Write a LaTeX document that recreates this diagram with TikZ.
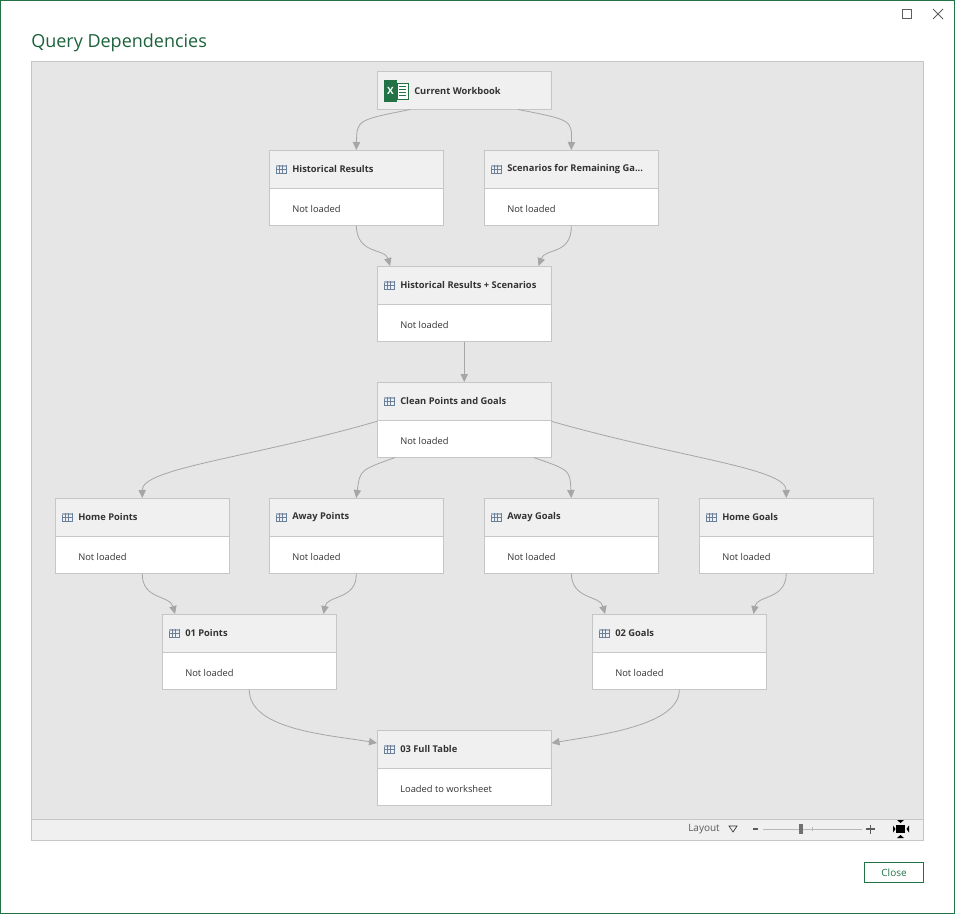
\documentclass[tikz,border=0pt]{standalone}
\usepackage{fontspec}
\setmainfont{Open Sans}
\usetikzlibrary{arrows.meta,calc}
\definecolor{xgreen}{HTML}{217346}
\definecolor{canvas}{HTML}{E6E6E6}
\definecolor{hdr}{HTML}{F0F0F0}
\definecolor{bord}{HTML}{C6C6C6}
\definecolor{edge}{HTML}{A6A6A6}
\definecolor{txt}{HTML}{333333}
\definecolor{icon}{HTML}{6A7F99}
\tikzset{
  hdrbox/.style={draw=bord,fill=hdr,minimum width=130.5pt,minimum height=28.5pt,anchor=north west,inner sep=0pt},
  bodybox/.style={draw=bord,fill=white,minimum width=130.5pt,minimum height=27.75pt,anchor=north west,inner sep=0pt},
  ttl/.style={anchor=west,font=\bfseries\fontsize{7pt}{8pt}\selectfont,text=txt,inner sep=0pt},
  stat/.style={anchor=west,font=\fontsize{7pt}{8pt}\selectfont,text=txt,inner sep=0pt},
  conn/.style={draw=edge,line width=0.6pt,-{Triangle[width=5.5pt,length=6pt]}},
}
\newcommand{\qnode}[5]{%
  \node[hdrbox] (#1) at (#2,#3) {};
  \node[bodybox] (#1b) at (#2,#3+38) {};
  \draw[icon,line width=0.4pt] (#2+7,#3+15) rectangle (#2+17,#3+23);
  \fill[icon!60] (#2+7,#3+15) rectangle (#2+17,#3+17);
  \draw[icon,line width=0.3pt] (#2+10.3,#3+15)--(#2+10.3,#3+23) (#2+13.6,#3+15)--(#2+13.6,#3+23) (#2+7,#3+19.5)--(#2+17,#3+19.5);
  \node[ttl] (#1t) at (#2+23,#3+19) {#4};
  \node[stat] (#1s) at (#2+23,#3+58.5) {#5};
}
\begin{document}
\begin{tikzpicture}[x=0.75pt,y=-0.75pt]
\useasboundingbox (0,0) rectangle (955,914);
\fill[white] (0,0) rectangle (955,914);
\draw[xgreen,line width=0.9pt] (0.5,0.5) rectangle (954.5,913.5);
\node[anchor=west,text=xgreen!85!black,font=\fontsize{13.5pt}{15pt}\selectfont,inner sep=0pt] (title) at (31,43) {Query Dependencies};
\draw[txt!80,line width=0.6pt] (902,9) rectangle (911,18);
\draw[txt!80,line width=0.6pt] (933,9)--(943,19) (943,9)--(933,19);
\node[draw=bord,fill=canvas,minimum width=669pt,minimum height=584.25pt,anchor=north west,inner sep=0pt] (cv) at (31,61) {};
\fill[hdr] (31.5,819) rectangle (922.5,839.5);
\draw[bord] (31,819)--(923,819);
\node[anchor=west,font=\fontsize{7.5pt}{8pt}\selectfont,text=txt!80,inner sep=0pt] (lay) at (688,829.5) {Layout};
\draw[txt,line width=0.5pt] (729,826)--(737,826)--(733,832)--cycle;
\draw[txt!80,line width=1pt] (753,829)--(758,829) (866,829)--(875,829) (870.5,824.5)--(870.5,833.5);
\draw[edge!80,line width=0.5pt] (763,829)--(862,829) (812,827)--(812,831);
\fill[txt!70] (799,824) rectangle (803,834);
\fill[black] (896,825) rectangle (905,833);
\fill[black] (897,820)--(904,820)--(900.5,823)--cycle (897,838)--(904,838)--(900.5,835)--cycle (893,825.5)--(893,832.5)--(895.5,829)--cycle (909,825.5)--(909,832.5)--(906.5,829)--cycle;
\node[draw=xgreen,line width=0.8pt,minimum width=44.25pt,minimum height=15pt,inner sep=0pt,anchor=north west,text=xgreen,font=\fontsize{7.5pt}{8pt}\selectfont] (close) at (864,862) {Close};
\node[hdrbox] (cw) at (377,71) {};
\fill[xgreen] (384,80) rectangle (397,102);
\fill[white] (397,83) rectangle (408,99);
\draw[xgreen,line width=0.4pt] (397,83) rectangle (408,99);
\foreach \yy in {86,89,92,95} \draw[xgreen,line width=0.5pt] (399,\yy)--(406,\yy);
\node[text=white,font=\bfseries\fontsize{7.5pt}{8pt}\selectfont,inner sep=0pt] (xl) at (390.5,91) {X};
\node[ttl] (cwt) at (414,91) {Current Workbook};
\qnode{hr}{269}{150}{Historical Results}{Not loaded}
\qnode{sc}{484}{150}{Scenarios for Remaining Ga...}{Not loaded}
\qnode{hs}{377}{266}{Historical Results + Scenarios}{Not loaded}
\qnode{cl}{377}{382}{Clean Points and Goals}{Not loaded}
\qnode{hp}{55}{498}{Home Points}{Not loaded}
\qnode{ap}{269}{498}{Away Points}{Not loaded}
\qnode{ag}{484}{498}{Away Goals}{Not loaded}
\qnode{hg}{699}{498}{Home Goals}{Not loaded}
\qnode{pt}{162}{614}{01 Points}{Not loaded}
\qnode{gl}{592}{614}{02 Goals}{Not loaded}
\qnode{ft}{377}{730}{03 Full Table}{Loaded to worksheet}
\draw[conn] ([xshift=-40.5pt]cw.south) .. controls (357,120) .. (hr.north);
\draw[conn] ([xshift=40.5pt]cw.south) .. controls (572,120) .. (sc.north);
\draw[conn] (hrb.south) .. controls (357,255) and (385,248) .. ([xshift=9.75pt]hs.north west);
\draw[conn] (scb.south) .. controls (572,255) and (545,248) .. ([xshift=-9.75pt]hs.north east);
\draw[conn] (hsb.south) -- (cl.north);
\draw[conn] ([yshift=-1pt]clb.north west) .. controls (250,458) and (142,468) .. (hp.north);
\draw[conn] ([xshift=13.5pt]clb.south west) .. controls (360,470) .. (ap.north);
\draw[conn] ([xshift=-13.5pt]clb.south east) .. controls (570,470) .. (ag.north);
\draw[conn] ([yshift=-1pt]clb.north east) .. controls (680,458) and (786,468) .. (hg.north);
\draw[conn] (hpb.south) .. controls (142,600) and (170,595) .. ([xshift=9.75pt]pt.north west);
\draw[conn] (apb.south) .. controls (357,600) and (327,595) .. ([xshift=-9.75pt]pt.north east);
\draw[conn] (agb.south) .. controls (572,600) and (600,595) .. ([xshift=9.75pt]gl.north west);
\draw[conn] (hgb.south) .. controls (786,600) and (757,595) .. ([xshift=-9.75pt]gl.north east);
\draw[conn] (ptb.south) .. controls (249,730) and (330,735) .. ([yshift=-9.75pt]ft.north west);
\draw[conn] (glb.south) .. controls (680,725) and (600,735) .. ([yshift=-9.75pt]ft.north east);
\end{tikzpicture}
\end{document}
